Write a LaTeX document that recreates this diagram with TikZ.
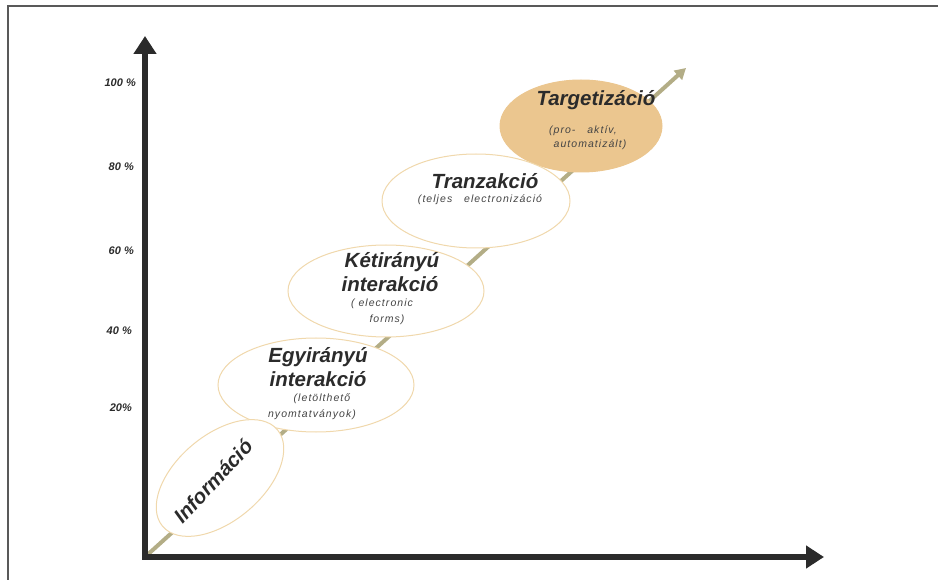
\documentclass[tikz,border=0pt]{standalone}
\usepackage{fontspec}
\setmainfont{Liberation Sans}
\usetikzlibrary{shapes.geometric,arrows.meta}
\definecolor{axisc}{HTML}{2B2B2B}
\definecolor{diagc}{HTML}{B3AD86}
\definecolor{ringc}{HTML}{F0D8AC}
\definecolor{fillc}{HTML}{EBC68F}
\definecolor{subc}{HTML}{444444}
\tikzset{
  axisline/.style={line width=6pt, draw=axisc, -{Triangle[length=18pt,width=22pt]}},
  diagline/.style={line width=4pt, draw=diagc, -{Triangle[length=11pt,width=12pt]}},
  stage/.style={ellipse, draw=ringc, line width=1pt, fill=white, inner sep=0pt},
  title/.style={font=\fontsize{20.5}{22}\selectfont\bfseries\itshape, text=axisc, inner sep=0pt},
  sub/.style={font=\fontsize{10.5}{12}\selectfont\itshape\addfontfeatures{LetterSpace=10}, text=subc, inner sep=0pt},
  pct/.style={font=\fontsize{11}{13}\selectfont\bfseries\itshape, text=axisc, anchor=east, inner sep=0pt},
}
\begin{document}
\begin{tikzpicture}[x=1pt,y=-1pt]
\useasboundingbox (0,0) rectangle (938,580);
% frame
\draw[line width=1.5pt, draw=gray!70!black] (8,580) -- (8,6) -- (938,6);
% coordinates
\coordinate (o) at (145,557);
\coordinate (ytip) at (145,36);
\coordinate (xtip) at (824,557);
\coordinate (dtip) at (686,68);
% diagonal
\draw[diagline] (o) -- (dtip);
% stages
\node[stage, fill=fillc, draw=fillc, minimum width=162pt, minimum height=92pt] (tg) at (581,126) {};
\node[stage, minimum width=188pt, minimum height=94pt] (tr) at (476,201) {};
\node[stage, minimum width=196pt, minimum height=92pt] (ke) at (386,291) {};
\node[stage, minimum width=196pt, minimum height=94pt] (eg) at (316,385) {};
\node[stage, rotate=40, minimum width=150pt, minimum height=86pt] (in) at (220,478) {};
% axes
\draw[axisline] (o) -- (ytip);
\draw[axisline] ([xshift=-3pt]o) -- (xtip);
% texts
\node[title] (tgt) at (596,100) {Targetizáció};
\node[sub] (tgs1) at (583,131) {(pro-\ \ \ aktív,};
\node[sub] (tgs2) at (590,145) {automatizált)};
\node[title] (trt) at (485,181) {Tranzakció};
\node[sub] (trs) at (480,200) {(teljes\ \ \ electronizáció};
\node[title] (ket1) at (392,262) {Kétirányú};
\node[title] (ket2) at (390,284) {interakció};
\node[sub] (kes1) at (382,304) {( electronic};
\node[sub] (kes2) at (387,320) {forms)};
\node[title] (egt1) at (318,357) {Egyirányú};
\node[title] (egt2) at (318,379) {interakció};
\node[sub] (egs1) at (322,399) {(letölthető};
\node[sub] (egs2) at (312,415) {nyomtatványok)};
\node[title, rotate=47] (int) at (213,481) {Információ};
% percentages
\node[pct] (p100) at (136,83) {100 \%};
\node[pct] (p80) at (134,167) {80 \%};
\node[pct] (p60) at (134,251) {60 \%};
\node[pct] (p40) at (132,331) {40 \%};
\node[pct] (p20) at (132,408) {20\%};
\end{tikzpicture}
\end{document}
